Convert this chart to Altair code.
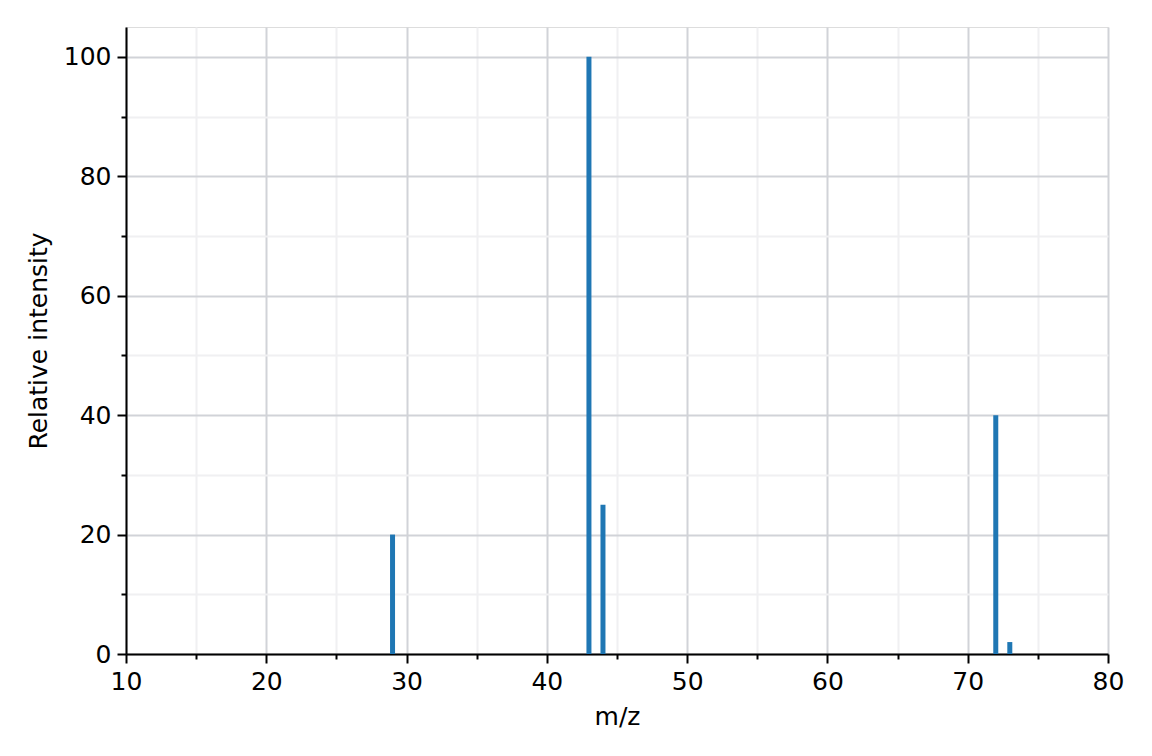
import altair as alt
import pandas as pd

mz = [29, 43, 44, 72, 73]
intensity = [20, 100, 25, 40, 2]

x_ticks = [10, 15, 20, 25, 30, 35, 40, 45, 50, 55, 60, 65, 70, 75, 80]
y_ticks = [0, 10, 20, 30, 40, 50, 60, 70, 80, 90, 100]

df = pd.DataFrame({"mz": mz, "intensity": intensity})

FONT = "DejaVu Sans"
MAJOR = "#d1d3d8"
MINOR = "#f0f0f2"

x_axis = alt.Axis(
    values=x_ticks,
    title="m/z",
    labelExpr="datum.value % 10 == 0 ? datum.label : ''",
    tickSize={"condition": {"test": "datum.value % 10 != 0", "value": 5}, "value": 9},
    gridColor={"condition": {"test": "datum.value % 10 != 0", "value": MINOR}, "value": MAJOR},
    grid=True,
    gridWidth=2,
    tickWidth=2,
    tickColor="black",
    domainColor="black",
    domainWidth=2,
    labelFont=FONT,
    labelFontSize=25,
    labelColor="black",
    labelPadding=6,
    titleFont=FONT,
    titleFontSize=25,
    titleFontWeight="normal",
    titleColor="black",
    titlePadding=10,
    labelFlush=False,
)

y_axis = alt.Axis(
    values=y_ticks,
    title="Relative intensity",
    labelExpr="datum.value % 20 == 0 ? datum.label : ''",
    tickSize={"condition": {"test": "datum.value % 20 != 0", "value": 5}, "value": 9},
    gridColor={"condition": {"test": "datum.value % 20 != 0", "value": MINOR}, "value": MAJOR},
    grid=True,
    gridWidth=2,
    tickWidth=2,
    tickColor="black",
    domainColor="black",
    domainWidth=2,
    labelFont=FONT,
    labelFontSize=25,
    labelColor="black",
    labelPadding=6,
    titleFont=FONT,
    titleFontSize=25,
    titleFontWeight="normal",
    titleColor="black",
    titlePadding=12,
    labelFlush=False,
)

chart = (
    alt.Chart(df)
    .mark_rule(color="#1f77b4", strokeWidth=5, strokeCap="butt")
    .encode(
        x=alt.X("mz:Q", scale=alt.Scale(domain=[10, 80], nice=False, zero=False), axis=x_axis),
        y=alt.Y("intensity:Q", scale=alt.Scale(domain=[0, 105], nice=False), axis=y_axis),
        y2=alt.datum(0),
    )
    .properties(
        width=982,
        height=627,
        padding={"left": 118, "top": 19, "right": 36, "bottom": 94},
        autosize=alt.AutoSizeParams(type="none"),
    )
    .configure_view(stroke="black", strokeWidth=2)
    .configure(background="white")
)

chart.save("out.html", embed_options={"renderer": "svg", "actions": False})
